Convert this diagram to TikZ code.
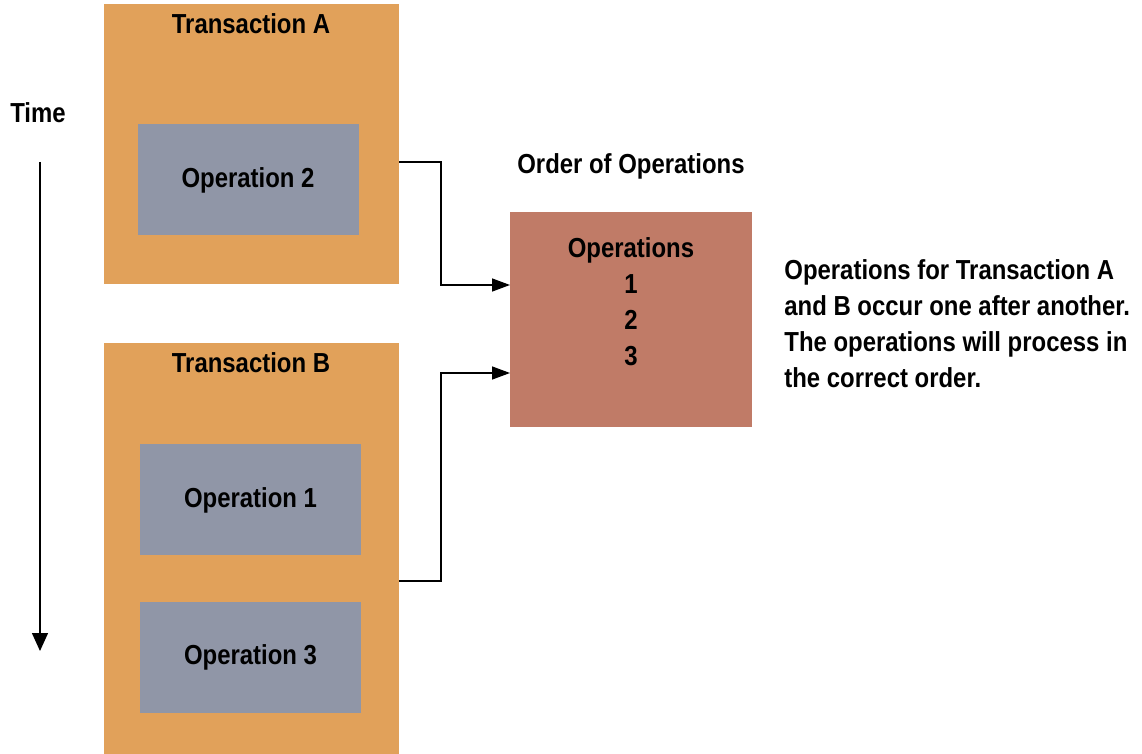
\documentclass[tikz,border=0pt]{standalone}
\usepackage{fontspec}
\setmainfont{Liberation Sans}[FakeStretch=0.87]
\usetikzlibrary{arrows.meta,positioning}
\definecolor{txorange}{HTML}{E1A15A}
\definecolor{opgray}{HTML}{9096A7}
\definecolor{ordrust}{HTML}{C07B67}
\tikzset{
    txbox/.style={fill=txorange, minimum width=147.5pt, inner sep=0pt},   % transaction panel
    opbox/.style={fill=opgray, minimum width=110.5pt, minimum height=55.5pt, inner sep=0pt, font=\fontsize{13.75}{18}\selectfont\bfseries},
    txt/.style={inner sep=0pt, font=\fontsize{13.75}{18}\selectfont\bfseries},
    link/.style={line width=0.7pt, -{Triangle[length=9pt,width=6.5pt]}},
}
\begin{document}
\begin{tikzpicture}[x=0.5pt,y=-0.5pt]
    \useasboundingbox (0,0) rectangle (1142,754);

    % time axis
    \node[txt] (time) at (38,113) {Time};
    \coordinate (tTop) at (40,162);
    \coordinate (tBot) at (40,651);
    \draw[line width=0.7pt,-{Triangle[length=9pt,width=8pt]}] (tTop) -- (tBot);

    % transaction A
    \node[txbox, minimum height=140pt] (tA) at (251.5,144.5) {};
    \node[txt] (tAname) at (251,24) {Transaction A};
    \node[opbox] (op2) at (248,180) {Operation 2};

    % transaction B
    \node[txbox, minimum height=205.5pt] (tB) at (251.5,548.5) {};
    \node[txt] (tBname) at (251,363) {Transaction B};
    \node[opbox] (op1) at (250.5,500) {Operation 1};
    \node[opbox] (op3) at (250.5,657.5) {Operation 3};

    % order of operations
    \node[txt] (ordname) at (631,166) {Order of Operations};
    \node[fill=ordrust, minimum width=121pt, minimum height=107.5pt, inner sep=0pt] (ord) at (631,319.5) {};
    \node[txt, align=center] (ordlist) at (631,302) {Operations\\1\\2\\3};

    \node[txt, align=left, anchor=west] (note) at (784,324)
        {Operations for Transaction A\\and B occur one after another.\\The operations will process in\\the correct order.};

    % connectors
    \coordinate (aOut) at (399,162);
    \coordinate (aIn) at (510,285);
    \coordinate (bOut) at (399,581);
    \coordinate (bIn) at (510,373);
    \draw[link] (aOut) -- ++(42,0) |- (aIn);
    \draw[link] (bOut) -- ++(42,0) |- (bIn);
\end{tikzpicture}
\end{document}
